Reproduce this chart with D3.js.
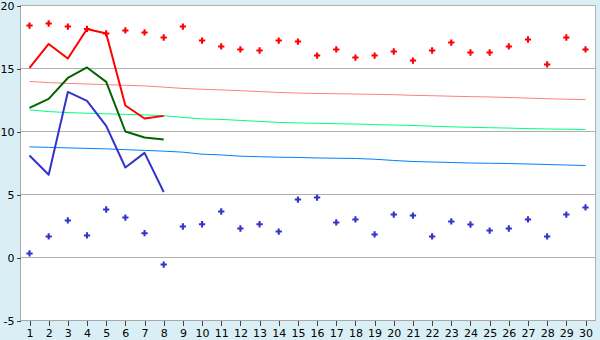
<!DOCTYPE html>
<html><head><meta charset="utf-8">
<script src="https://cdn.jsdelivr.net/npm/d3@7/dist/d3.min.js"></script>
<style>
html,body{margin:0;padding:0;background:#daeff5;}
svg{display:block;}
text{font-family:"DejaVu Sans",Verdana,sans-serif;font-size:11px;fill:#000;}
</style></head><body>
<script>
// ---- data ----
const days = [1,2,3,4,5,6,7,8,9,10,11,12,13,14,15,16,17,18,19,20,21,22,23,24,25,26,27,28,29,30];
const yTicks = [-5,0,5,10,15,20];

// daily extreme markers
const highDots = [18.41,18.57,18.33,18.14,17.78,18.02,17.86,17.46,18.33,17.22,16.75,16.51,16.43,17.22,17.14,16.03,16.51,15.87,16.03,16.35,15.63,16.43,17.06,16.27,16.27,16.75,17.30,15.32,17.46,16.51];
const lowDots  = [0.32,1.67,2.94,1.75,3.81,3.17,1.93,-0.56,2.46,2.64,3.65,2.30,2.64,2.06,4.60,4.76,2.78,3.02,1.83,3.41,3.33,1.67,2.86,2.62,2.14,2.30,3.02,1.67,3.41,3.97];

// observed lines (days 1-8)
const obsMax  = [15.05,16.95,15.79,18.14,17.78,12.06,11.03,11.24];
const obsMean = [11.88,12.59,14.25,15.08,13.94,10.00,9.52,9.37];
const obsMin  = [8.10,6.57,13.14,12.43,10.44,7.14,8.30,5.20];

// normals
const normMax  = [13.97,13.88,13.82,13.77,13.72,13.67,13.62,13.52,13.42,13.35,13.30,13.24,13.17,13.10,13.05,13.02,13.00,12.97,12.95,12.92,12.87,12.84,12.80,12.77,12.74,12.70,12.65,12.60,12.56,12.53];
const normMean = [11.72,11.58,11.50,11.45,11.40,11.36,11.32,11.25,11.12,11.00,10.96,10.88,10.80,10.72,10.68,10.65,10.62,10.59,10.55,10.51,10.48,10.42,10.37,10.33,10.30,10.27,10.23,10.20,10.18,10.16];
const normMin  = [8.78,8.74,8.70,8.66,8.62,8.56,8.50,8.44,8.36,8.20,8.14,8.04,8.00,7.96,7.94,7.90,7.88,7.86,7.80,7.70,7.62,7.58,7.54,7.50,7.48,7.46,7.42,7.38,7.34,7.30];

// ---- drawing ----
const W = 600, H = 340;
const L = 20, R = 595, T = 5, B = 320;
const svg = d3.select("body").append("svg").attr("width", W).attr("height", H);

const x = d3.scalePoint().domain(days).range([29.5, 585.5]);
const y = d3.scaleLinear().domain([-5, 20]).range([B + 0.5, T + 0.5]);

svg.append("rect").attr("x", L).attr("y", T).attr("width", R - L).attr("height", B - T).attr("fill", "#fff");

// gridlines
svg.append("g").selectAll("line").data(yTicks.filter(d => d > -5)).join("line")
  .attr("x1", L).attr("x2", R).attr("y1", d => y(d)).attr("y2", d => y(d))
  .attr("stroke", "#b0b0b0").attr("stroke-width", 1).attr("shape-rendering", "crispEdges");
// right border
svg.append("line").attr("x1", R + 0.5).attr("x2", R + 0.5).attr("y1", T).attr("y2", B + 1)
  .attr("stroke", "#b0b0b0").attr("shape-rendering", "crispEdges");

// axes
const yAxis = d3.axisLeft(y).tickValues(yTicks).tickSize(4).tickPadding(2).tickFormat(d => String(d));
const gy = svg.append("g").attr("transform", `translate(${L + 0.5},0)`).call(yAxis);
const xAxis = d3.axisBottom(x).tickValues(days).tickSize(5).tickPadding(4);
const gx = svg.append("g").attr("transform", `translate(0,${B + 0.5})`).call(xAxis);
gx.select(".domain").attr("d", `M${L},0H${R + 1}`);
gy.select(".domain").attr("d", `M0,${T}V${B + 1}`);
[gx, gy].forEach(g => {
  g.select(".domain").attr("stroke", "#a8a8a8").attr("shape-rendering", "crispEdges");
  g.selectAll(".tick line").attr("stroke", "#444").attr("shape-rendering", "crispEdges");
  g.selectAll("text").attr("font-family", "DejaVu Sans, Verdana, sans-serif").attr("font-size", 11).attr("fill", "#000");
});

// normals
const line = (vals) => d3.line().x((d, i) => x(days[i])).y(d => y(d))(vals);
[[normMax, "#ff8080"], [normMean, "#00ff80"], [normMin, "#0080ff"]].forEach(([v, c]) => {
  svg.append("path").attr("d", line(v)).attr("fill", "none").attr("stroke", c)
    .attr("stroke-width", 1);
});

// observed
[[obsMax, "#ff0000"], [obsMean, "#006400"], [obsMin, "#3333cc"]].forEach(([v, c]) => {
  svg.append("path").attr("d", line(v)).attr("fill", "none").attr("stroke", c)
    .attr("stroke-width", 2).attr("stroke-linejoin", "round");
});

// markers
const cross = d3.symbol().type(d3.symbolCross).size(22);
[[highDots, "#ff0000"], [lowDots, "#3333cc"]].forEach(([v, c]) => {
  svg.append("g").selectAll("path").data(v).join("path")
    .attr("d", cross)
    .attr("transform", (d, i) => `translate(${x(days[i])},${y(d)})`)
    .attr("fill", c);
});
</script>
</body></html>
